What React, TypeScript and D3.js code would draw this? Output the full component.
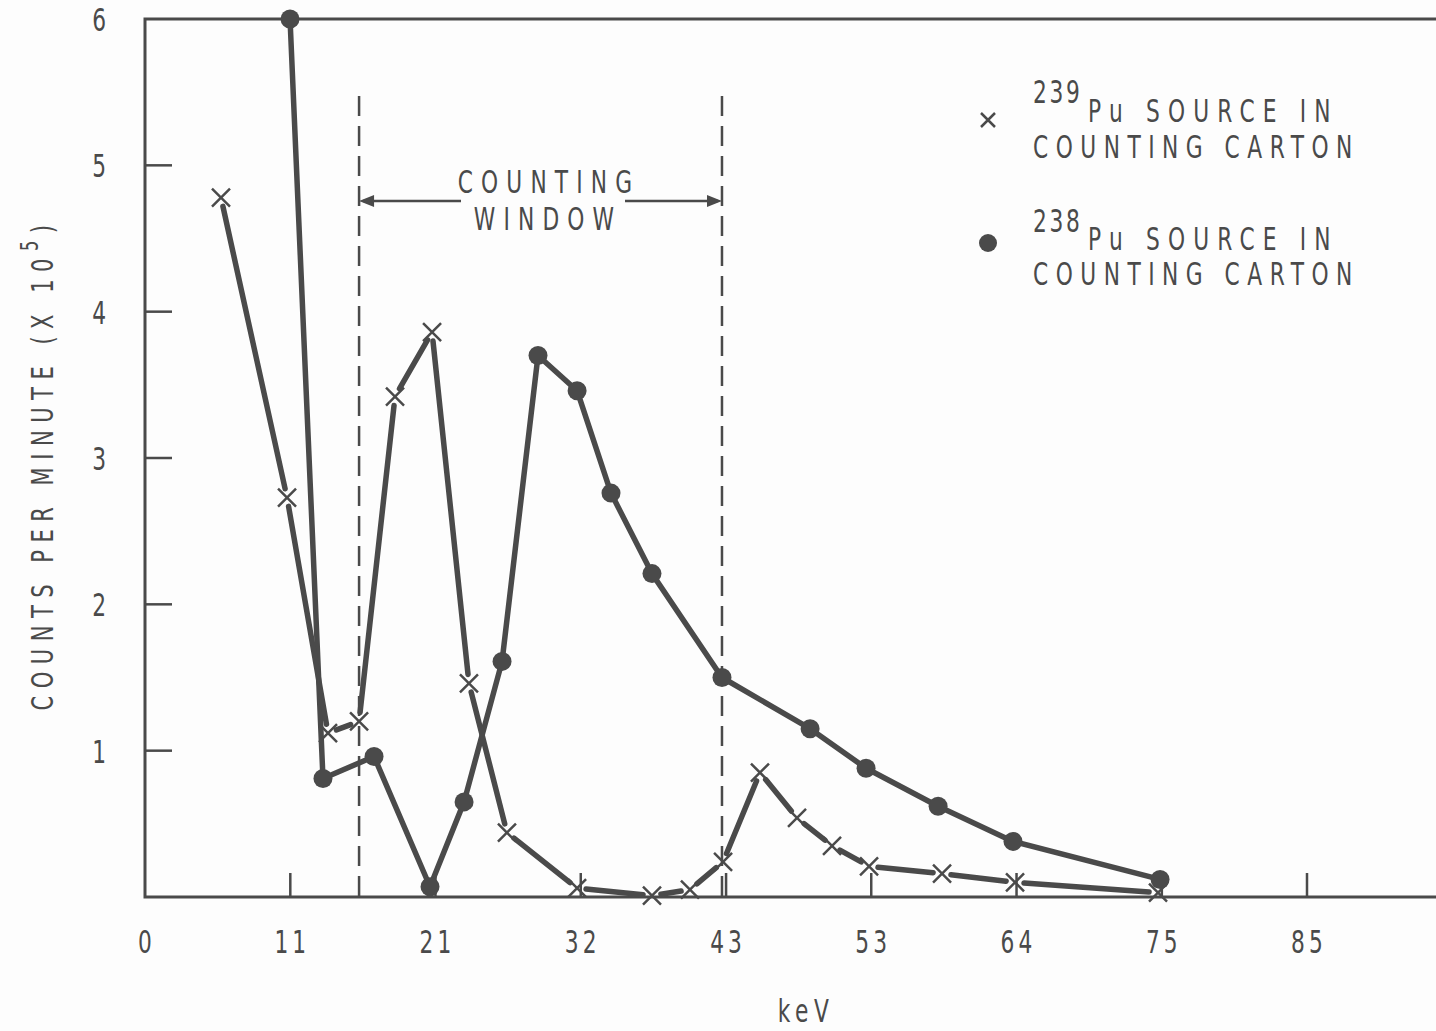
import React from 'react';
import * as d3 from 'd3';

// 239Pu source in counting carton (x markers)
const pu239Kev = [5.58, 10.43, 13.44, 15.72, 18.36, 21.08, 23.79, 26.58, 31.73, 37.23, 40.02, 42.45, 45.16, 47.88, 50.45, 53.17, 58.53, 63.89, 74.39];
const pu239Counts = [4.78, 2.73, 1.12, 1.20, 3.42, 3.86, 1.46, 0.44, 0.06, 0.01, 0.05, 0.24, 0.85, 0.54, 0.35, 0.21, 0.16, 0.10, 0.03];

// 238Pu source in counting carton (filled dots)
const pu238Kev = [10.65, 13.07, 16.82, 20.93, 23.43, 26.22, 28.86, 31.73, 34.22, 37.23, 42.37, 48.84, 52.95, 58.24, 63.74, 74.54];
const pu238Counts = [6.0, 0.81, 0.96, 0.07, 0.65, 1.61, 3.70, 3.46, 2.76, 2.21, 1.50, 1.15, 0.88, 0.62, 0.38, 0.12];

// x axis: evenly spaced ticks, labelled in rounded keV
const xTickKev = [0, 10.67, 21.33, 32, 42.67, 53.33, 64, 74.67, 85.33];
const xTickLabels = ['0', '11', '21', '32', '43', '53', '64', '75', '85'];
const yTicks = [1, 2, 3, 4, 5, 6];

// counting window edges (keV)
const windowKev = [15.72, 42.37];

const W = 1436;
const H = 1031;
const INK = '#4a4a4a';
const FONT = '"DejaVu Sans", sans-serif';

// narrow, letter-spaced lettering like the original typewriter labels
function T({ x, y, size = 32, sx = 0.68, ls = 12, anchor = 'start', rotate = 0, children }: any) {
  return (
    <text
      transform={`translate(${x},${y}) rotate(${rotate}) scale(${sx},1)`}
      textAnchor={anchor}
      fontSize={size}
      style={{ fontFamily: FONT, fill: INK, letterSpacing: `${ls}px` }}
    >
      {children}
    </text>
  );
}

export default function App() {
  const x = d3.scaleLinear().domain([0, 85.33]).range([145, 1307]);
  const y = d3.scaleLinear().domain([0, 6]).range([897, 19]);

  const pts239 = pu239Kev.map((k, i) => [x(k), y(pu239Counts[i])]);
  const pts238 = pu238Kev.map((k, i) => [x(k), y(pu238Counts[i])]);

  // x series is drawn with small gaps around each marker
  const gap = 9;
  const segs239 = pts239.slice(1).map((p, i) => {
    const a = pts239[i];
    const dx = p[0] - a[0], dy = p[1] - a[1];
    const len = Math.hypot(dx, dy);
    const ux = dx / len, uy = dy / len;
    return [a[0] + ux * gap, a[1] + uy * gap, p[0] - ux * gap, p[1] - uy * gap];
  });

  const line = d3.line();
  const xMark = 9;
  const arrowY = 201;
  const xl = x(windowKev[0]);
  const xr = x(windowKev[1]);

  return (
    <svg width={W} height={H} style={{ position: 'absolute', left: 0, top: 0, background: '#fdfdfd' }}>
      {/* frame: left axis, top border, bottom axis */}
      <path d={`M${W},${y(6)}H${x(0)}V${y(0)}H${W}`} fill="none" stroke={INK} strokeWidth={3} />

      {/* y ticks */}
      {yTicks.slice(0, 5).map(t => (
        <line key={t} x1={x(0)} x2={x(0) + 27} y1={y(t)} y2={y(t)} stroke={INK} strokeWidth={2.5} />
      ))}
      {yTicks.map(t => (
        <T key={t} x={106} y={y(t) + 12} anchor="end" ls={0}>{t}</T>
      ))}

      {/* x ticks */}
      {xTickKev.slice(1).map(k => (
        <line key={k} x1={x(k)} x2={x(k)} y1={y(0)} y2={y(0) - 24} stroke={INK} strokeWidth={2.5} />
      ))}
      {xTickKev.map((k, i) => (
        <T key={k} x={x(k) + 2} y={953} anchor="middle" ls={6}>{xTickLabels[i]}</T>
      ))}

      {/* axis titles */}
      <T x={806} y={1022} anchor="middle" ls={8}>keV</T>
      <T x={53} y={464} anchor="middle" rotate={-90} size={31} ls={11}>
        COUNTS PER MINUTE (X 10<tspan dy={-15} fontSize={24}>5</tspan><tspan dy={15}>)</tspan>
      </T>

      {/* counting window */}
      {windowKev.map(k => (
        <line key={k} x1={x(k)} x2={x(k)} y1={96} y2={y(0)} stroke={INK} strokeWidth={2.5} strokeDasharray="20,10" />
      ))}
      <line x1={xl + 4} x2={461} y1={arrowY} y2={arrowY} stroke={INK} strokeWidth={2.5} />
      <line x1={625} x2={xr - 4} y1={arrowY} y2={arrowY} stroke={INK} strokeWidth={2.5} />
      <path d={`M${xl},${arrowY}l15,-6v12z`} fill={INK} />
      <path d={`M${xr},${arrowY}l-15,-6v12z`} fill={INK} />
      <T x={549} y={193} anchor="middle">COUNTING</T>
      <T x={548} y={230} anchor="middle">WINDOW</T>

      {/* 238Pu series */}
      <path d={line(pts238 as [number, number][]) || ''} fill="none" stroke={INK} strokeWidth={5.5} strokeLinejoin="round" />
      {pts238.map((p, i) => (
        <circle key={i} cx={p[0]} cy={p[1]} r={9.5} fill={INK} />
      ))}

      {/* 239Pu series */}
      {segs239.map((s, i) => (
        <line key={i} x1={s[0]} y1={s[1]} x2={s[2]} y2={s[3]} stroke={INK} strokeWidth={5.5} strokeLinecap="round" />
      ))}
      {pts239.map((p, i) => (
        <path key={i} d={`M${p[0] - xMark},${p[1] - xMark}L${p[0] + xMark},${p[1] + xMark}M${p[0] - xMark},${p[1] + xMark}L${p[0] + xMark},${p[1] - xMark}`} stroke={INK} strokeWidth={2.5} />
      ))}

      {/* legend */}
      <path d="M981,113L995,127M981,127L995,113" stroke={INK} strokeWidth={2.5} />
      <T x={1033} y={103} ls={4}>239</T>
      <T x={1088} y={122}>Pu SOURCE IN</T>
      <T x={1033} y={158} ls={11}>COUNTING CARTON</T>
      <circle cx={988} cy={243} r={9} fill={INK} />
      <T x={1033} y={232} ls={4}>238</T>
      <T x={1088} y={250}>Pu SOURCE IN</T>
      <T x={1033} y={285} ls={11}>COUNTING CARTON</T>
    </svg>
  );
}
